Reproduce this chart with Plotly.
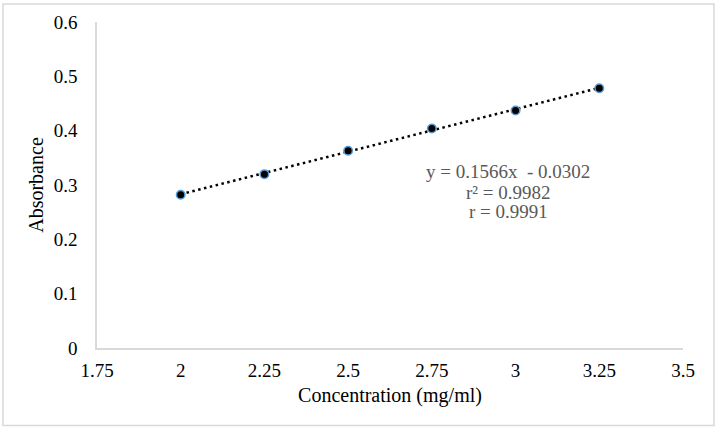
import plotly.graph_objects as go
import numpy as np

concentration = [2, 2.25, 2.5, 2.75, 3, 3.25]
absorbance = [0.282, 0.320, 0.363, 0.404, 0.437, 0.478]
slope = 0.1566
intercept = -0.0302
x_ticks = [1.75, 2, 2.25, 2.5, 2.75, 3, 3.25, 3.5]
x_tick_labels = ["1.75", "2", "2.25", "2.5", "2.75", "3", "3.25", "3.5"]
y_ticks = [0, 0.1, 0.2, 0.3, 0.4, 0.5, 0.6]
y_tick_labels = ["0", "0.1", "0.2", "0.3", "0.4", "0.5", "0.6"]
eq_lines = ["y = 0.1566x  - 0.0302", "r² = 0.9982", "r = 0.9991"]
eq_line_y = [0.324, 0.287, 0.251]

fx = np.array([concentration[0], concentration[-1]])
fy = slope * fx + intercept

font = "Liberation Serif"
tfont = dict(family=font, size=19, color="black")
fig = go.Figure()
fig.add_trace(go.Scatter(x=fx, y=fy, mode="lines",
                         line=dict(color="black", width=2.5, dash="2.5px,3.5px"),
                         hoverinfo="skip", showlegend=False))
fig.add_trace(go.Scatter(x=concentration, y=absorbance, mode="markers",
                         marker=dict(color="black", size=8.5,
                                     line=dict(color="#5B9BD5", width=1.5)),
                         showlegend=False))

for txt, yy in zip(eq_lines, eq_line_y):
    fig.add_annotation(x=(508 - 97) / 586, y=yy, xref="paper", yref="y",
                       xanchor="center", yanchor="middle",
                       text=txt, showarrow=False, align="center",
                       font=dict(family=font, size=19, color="#595959"))

fig.add_shape(type="rect", xref="paper", yref="paper",
              x0=(3 - 97) / 586, x1=(714 - 97) / 586,
              y0=(348 - 426) / 328, y1=(348 - 2) / 328,
              line=dict(color="#D9D9D9", width=1.5), fillcolor="rgba(0,0,0,0)")

fig.update_layout(
    width=719, height=431,
    margin=dict(l=97, r=36, t=20, b=83),
    paper_bgcolor="white", plot_bgcolor="white",
    font=dict(family=font, size=19, color="black"),
    xaxis=dict(range=[1.75, 3.5], tickvals=x_ticks, ticktext=x_tick_labels,
               tickfont=tfont,
               showgrid=False, zeroline=False, showline=True,
               linecolor="#D9D9D9", linewidth=1.5,
               ticks="outside", ticklen=4, tickcolor="rgba(0,0,0,0)",
               title=dict(text="Concentration (mg/ml)", standoff=8,
                          font=dict(family=font, size=20, color="black"))),
    yaxis=dict(range=[0, 0.6], tickvals=y_ticks, ticktext=y_tick_labels,
               tickfont=tfont,
               showgrid=False, zeroline=False, showline=True,
               linecolor="#D9D9D9", linewidth=1.5,
               ticks="outside", ticklen=14, tickcolor="rgba(0,0,0,0)",
               title=dict(text="Absorbance", standoff=5,
                          font=dict(family=font, size=20, color="black"))),
)
fig.write_html("out.html", config={"displayModeBar": False},
               post_script="document.body.style.margin='0';document.body.style.padding='0';")
